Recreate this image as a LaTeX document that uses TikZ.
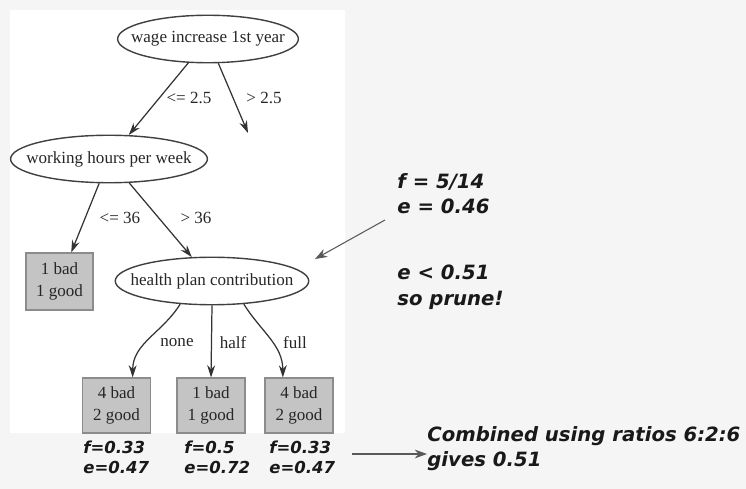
\documentclass[tikz,border=0pt]{standalone}
\usepackage{fontspec}
\setmainfont{Liberation Serif}
\newfontfamily\notefont{DejaVu Sans}
\usetikzlibrary{shapes.geometric,arrows.meta}

\begin{document}
\begin{tikzpicture}[x=0.02cm,y=-0.02cm,
    test/.style={ellipse,draw=black!75,line width=0.8pt,fill=white,minimum height=0.95cm,inner xsep=-0.26cm,inner ysep=0pt,text=black!85,font=\fontsize{9.7}{12}\selectfont},
    leaf/.style={rectangle,draw=black!45,line width=0.6pt,fill=black!23,minimum width=1.36cm,minimum height=1.1cm,inner sep=0pt,align=center,text=black!85,font=\fontsize{9.7}{12.5}\selectfont},
    branch/.style={draw=black!80,line width=0.7pt,-{Stealth[length=7pt,width=4.5pt]}},
    cond/.style={inner sep=0pt,text=black!85,font=\fontsize{9.7}{12}\selectfont},
    pointer/.style={draw=black!65,line width=0.6pt,-{Stealth[length=7pt,width=5pt]}},
    note/.style={align=left,anchor=north west,inner sep=0pt,text=black!90,font=\notefont\bfseries\itshape\fontsize{11.2}{14.5}\selectfont},
    score/.style={note,font=\notefont\bfseries\itshape\fontsize{9.4}{11.4}\selectfont}]

      % Background and white panel
      \fill[black!4] (0,0) rectangle (746,489);
      \fill[white] (10,10) rectangle (345,433);
      \useasboundingbox (0,0) rectangle (746,489);

      \coordinate (up) at (248,133); % unexpanded branch
      \coordinate (ftail) at (385,220);
      \coordinate (fhead) at (315,259);
      \coordinate (ctail) at (352,454);

      % Tests
      \node[test] (wage) at (208,39) {wage increase 1st year};
      \node[test] (hours) at (109,159) {working hours per week};
      \node[test] (health) at (212,281) {health plan contribution};

      % Leaves
      \node[leaf,minimum width=1.34cm,minimum height=1.14cm] (leaf0) at (59.5,281.5) {1 bad\\1 good};
      \node[leaf] (leafA) at (116.5,405.5) {4 bad\\2 good};
      \node[leaf] (leafB) at (211,405.5) {1 bad\\1 good};
      \node[leaf] (leafC) at (299,405.5) {4 bad\\2 good};

      % Branches
      \draw[branch] (wage) -- (hours);
      \draw[branch] (wage) -- (up);
      \draw[branch] (hours) -- (leaf0);
      \draw[branch] (hours) -- (health);
      \draw[branch] (health.216) to[out=-122,in=90] (leafA.60);
      \draw[branch] (health.south) -- (leafB.north);
      \draw[branch] (health.324) to[out=-58,in=90] (leafC.120);

      % Branch labels
      \node[cond] (c1) at (189,98) {<= 2.5};
      \node[cond] (c2) at (264,98) {> 2.5};
      \node[cond] (c3) at (120,218) {<= 36};
      \node[cond] (c4) at (196,218) {> 36};
      \node[cond] (c5) at (177,343) {none};
      \node[cond] (c6) at (233,343) {half};
      \node[cond] (c7) at (295,343) {full};

      % Scores under the leaves
      \node[score] (sA) at (83,441) {f=0.33\\e=0.47};
      \node[score] (sB) at (184,441) {f=0.5\\e=0.72};
      \node[score] (sC) at (269,441) {f=0.33\\e=0.47};

      % Notes
      \node[note] (fnote) at (397,173) {f = 5/14\\e = 0.46};
      \node[note] (prune) at (397,265) {e < 0.51\\so prune!};
      \node[note] (combined) at (427,426) {Combined using ratios 6:2:6\\gives 0.51};

      \draw[pointer] (ftail) -- (fhead);
      \draw[pointer] (ctail) -- (ctail -| combined.west);

    \end{tikzpicture}
\end{document}
